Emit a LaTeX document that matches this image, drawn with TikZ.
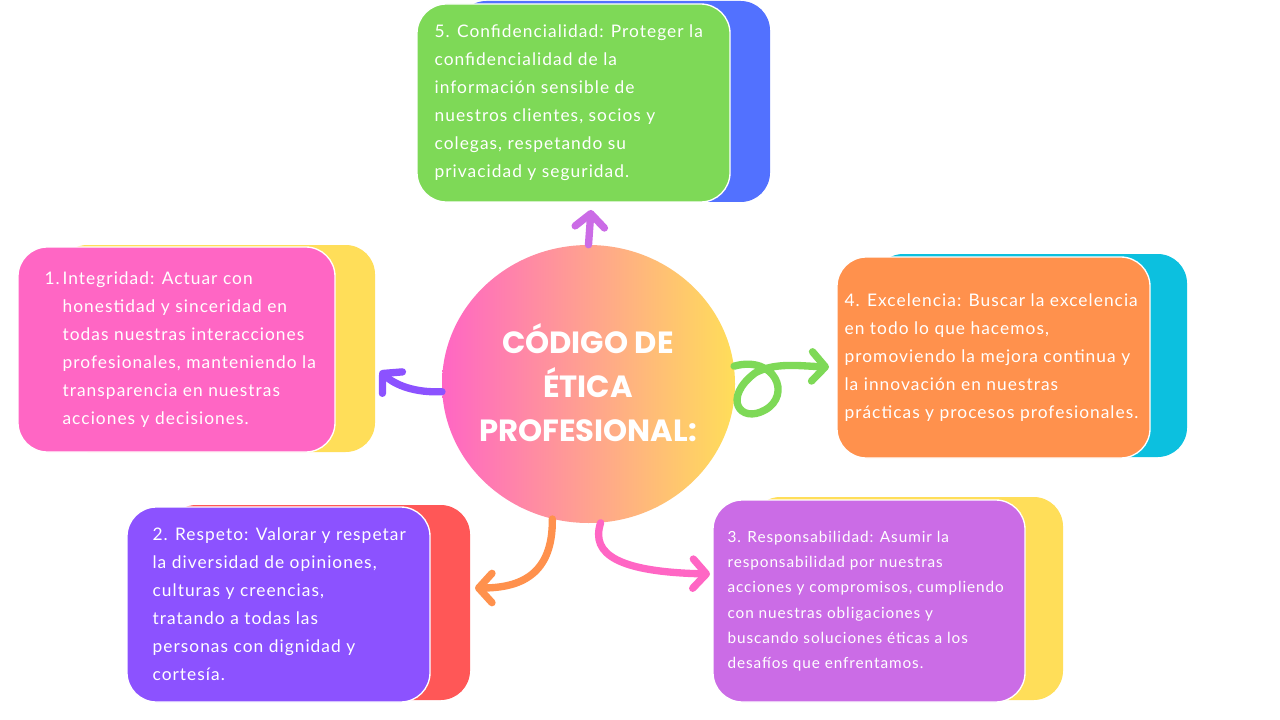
\documentclass[tikz,border=0pt]{standalone}
\usepackage{fontspec}
\usepackage{xcolor}
\usepackage{tikz}
\usetikzlibrary{arrows.meta,shapes.geometric}

\newfontfamily\handfont[LetterSpace=6]{Lato}
\newfontfamily\titlefont{Poppins}

\definecolor{green5}{HTML}{7ED957}
\definecolor{blue5}{HTML}{5271FF}
\definecolor{pink1}{HTML}{FF66C4}
\definecolor{yellowS}{HTML}{FFDE59}
\definecolor{orange4}{HTML}{FF914D}
\definecolor{cyan4}{HTML}{0CC0DF}
\definecolor{purple2}{HTML}{8C52FF}
\definecolor{red2}{HTML}{FF5757}
\definecolor{lilac3}{HTML}{CB6CE6}

\begin{document}
\begin{tikzpicture}[x=0.75pt,y=-0.75pt,
    card/.style={rectangle, rounded corners=22pt, inner sep=0pt},
    face/.style={card, draw=white, line width=1pt},
    blurb/.style={text=white, font=\handfont\fontsize{13}{21}\selectfont,
                  align=left, inner sep=0pt, anchor=west},
    link/.style={line width=5.5pt, line cap=round,
                 -{Straight Barb[length=10pt,width=22pt,line cap=round,line join=round]}}]
             \fill[white] (0,0) rectangle (1280,720);
             \useasboundingbox (0,0) rectangle (1280,720);

             % shadows behind the cards
             \node (s5) [card, fill=blue5,   minimum width=234.75pt, minimum height=150.75pt] at (613.5,101.5) {};
             \node (s1) [card, fill=yellowS, minimum width=237.75pt, minimum height=155.25pt] at (216.5,348.5) {};
             \node (s4) [card, fill=cyan4,   minimum width=234.75pt, minimum height=152.25pt] at (1030.5,355.5) {};
             \node (s2) [card, fill=red2,    minimum width=227.25pt, minimum height=146.25pt] at (318.5,602.5) {};
             \node (s3) [card, fill=yellowS, minimum width=234pt,    minimum height=152.25pt] at (907,598.5) {};

             % cards
             \node (b5) [face, fill=green5,  minimum width=234.75pt, minimum height=148.5pt]  at (573.5,103) {};
             \node (b1) [face, fill=pink1,   minimum width=237.75pt, minimum height=153.75pt] at (176.5,349.5) {};
             \node (b4) [face, fill=orange4, minimum width=234.75pt, minimum height=150.75pt] at (993.5,357.5) {};
             \node (b2) [face, fill=purple2, minimum width=227.25pt, minimum height=146.25pt] at (278.5,604.5) {};
             \node (b3) [face, fill=lilac3,  minimum width=234pt,    minimum height=151.5pt]  at (869,601) {};

             \node (t5) [blurb] at ([xshift=13.5pt]b5.west) {5. Confidencialidad: Proteger la\\
               confidencialidad de la\\ información sensible de\\ nuestros clientes, socios y\\
               colegas, respetando su\\ privacidad y seguridad.};
             \node (t1) [blurb] at ([xshift=33.75pt]b1.west) {\llap{1.\,}Integridad: Actuar con\\
               honestidad y sinceridad en\\ todas nuestras interacciones\\
               profesionales, manteniendo la\\ transparencia en nuestras\\ acciones y decisiones.};
             \node (t4) [blurb] at ([xshift=6pt]b4.west) {4. Excelencia: Buscar la excelencia\\
               en todo lo que hacemos,\\ promoviendo la mejora continua y\\
               la innovación en nuestras\\ prácticas y procesos profesionales.};
             \node (t2) [blurb] at ([xshift=19.5pt]b2.west) {2. Respeto: Valorar y respetar\\
               la diversidad de opiniones,\\ culturas y creencias,\\ tratando a todas las\\
               personas con dignidad y\\ cortesía.};
             \node (t3) [blurb, font=\handfont\fontsize{11.5}{19}\selectfont] at ([xshift=11.25pt]b3.west)
               {3. Responsabilidad: Asumir la\\ responsabilidad por nuestras\\
               acciones y compromisos, cumpliendo\\ con nuestras obligaciones y\\
               buscando soluciones éticas a los\\ desafíos que enfrentamos.};

             % centre
             \node (hub) [ellipse, inner sep=0pt, left color=pink1, right color=yellowS,
               minimum width=219.75pt, minimum height=208.5pt] at (588.5,384) {};
             \node (title) [text=white, align=center, font=\titlefont\bfseries\fontsize{23}{33}\selectfont]
               at (588,383) {CÓDIGO DE\\ ÉTICA\\ PROFESIONAL:};

             \coordinate (e5) at (591,210);
             \coordinate (e1) at (380,371);
             \coordinate (e4) at (829,367);
             \coordinate (e2) at (475,588);
             \coordinate (e3) at (710,574);

             \draw[link, lilac3] (hub.north) -- (e5);
             \draw[link, purple2] (hub.183) .. controls (415,393) and (395,385) .. (e1);
             \draw[link, green5] (hub.7) .. controls (775,355) and (792,395) .. (765,410)
                .. controls (740,424) and (722,398) .. (755,373)
                .. controls (775,362) and (800,366) .. (e4);
             \draw[link, orange4] (hub.255) .. controls (553,575) and (520,588) .. (e2);
             \draw[link, pink1] (hub.275) .. controls (590,555) and (620,572) .. (e3);
\end{tikzpicture}
\end{document}
